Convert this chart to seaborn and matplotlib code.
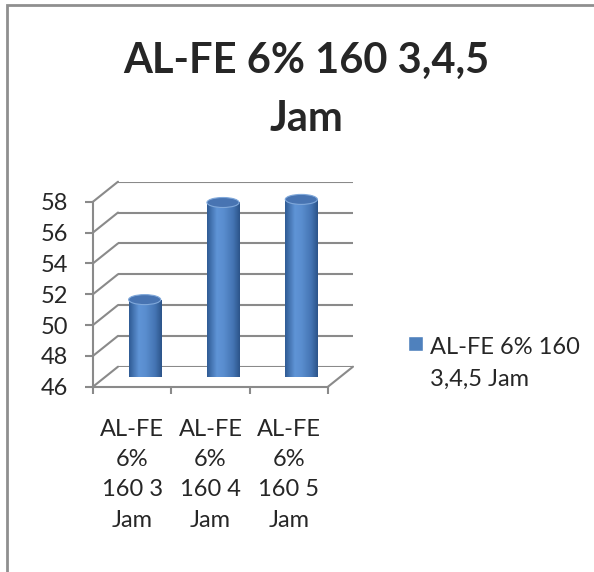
import numpy as np
import matplotlib
matplotlib.use("Agg")
import matplotlib.pyplot as plt
import seaborn as sns
from matplotlib.patches import Rectangle, Ellipse, ConnectionPatch, Patch
from matplotlib.colors import LinearSegmentedColormap
from matplotlib.legend_handler import HandlerPatch

# Chart data
categories = ["AL-FE\n6%\n160 3\nJam", "AL-FE\n6%\n160 4\nJam", "AL-FE\n6%\n160 5\nJam"]
values = [51.0, 57.3, 57.5]
series_name = "AL-FE 6% 160\n3,4,5 Jam"
chart_title = "AL-FE 6% 160 3,4,5\nJam"
y_ticks = [46, 48, 50, 52, 54, 56, 58]
y_min, y_max = 46, 58

sns.set_style("white")
plt.rcParams["font.family"] = ["Lato", "DejaVu Sans"]

W, H = 594, 572
fig = plt.figure(figsize=(W / 100, H / 100), dpi=100)


def px_box(left, top, width, height):
    """Axes rectangle from pixel values measured from the top-left corner."""
    return [left / W, 1 - (top + height) / H, width / W, height / H]


PLOT_W, PLOT_H = 235, 185
FRONT_LEFT, FRONT_BOTTOM = 93, 386.7
DEPTH_X, DEPTH_Y = 25, 20
GRID = "#8a8a8a"
BLUE = "#4F81BD"
LABEL_SIZE = 17

# back wall, mid-depth plane (cylinders), front plane (axes & labels)
ax_back = fig.add_axes(px_box(FRONT_LEFT + DEPTH_X, FRONT_BOTTOM - DEPTH_Y - PLOT_H, PLOT_W, PLOT_H))
ax_mid = fig.add_axes(px_box(FRONT_LEFT + DEPTH_X / 2, FRONT_BOTTOM - DEPTH_Y / 2 - PLOT_H, PLOT_W, PLOT_H))
ax_front = fig.add_axes(px_box(FRONT_LEFT, FRONT_BOTTOM - PLOT_H, PLOT_W, PLOT_H))

for ax in (ax_back, ax_mid, ax_front):
    ax.set_xlim(-0.5, 2.5)
    ax.set_ylim(y_min, y_max)
    ax.set_facecolor("none")

# back wall gridlines
ax_back.set_yticks(y_ticks)
ax_back.set_xticks([])
ax_back.yaxis.grid(True, color=GRID, lw=1.5)
ax_back.tick_params(left=False, labelleft=False)
for s in ax_back.spines.values():
    s.set_visible(False)

# side wall and floor edges joining front plane to back wall
for v in y_ticks:
    fig.add_artist(ConnectionPatch(xyA=(-0.5, v), coordsA=ax_front.transData,
                                   xyB=(-0.5, v), coordsB=ax_back.transData,
                                   color=GRID, lw=1.5))
fig.add_artist(ConnectionPatch(xyA=(2.5, y_min), coordsA=ax_front.transData,
                               xyB=(2.5, y_min), coordsB=ax_back.transData,
                               color=GRID, lw=1.5))

# cylinders
sns.barplot(x=list(range(len(values))), y=values, ax=ax_mid, width=0.41,
            color=BLUE, saturation=1)
ax_mid.set_xlim(-0.5, 2.5)
ax_mid.set_ylim(y_min, y_max)
ax_mid.axis("off")

shade = LinearSegmentedColormap.from_list(
    "cyl", [(0, "#2f5b94"), (0.3, "#5f94d6"), (0.5, "#5a8ecf"), (0.8, "#4474b3"), (1, "#2c5489")])
ell_h = 10 / (PLOT_H / (y_max - y_min))
grad = np.linspace(0, 1, 200)[None, :]
for patch, v in zip(list(ax_mid.patches), values):
    x0, w = patch.get_x(), patch.get_width()
    patch.set_visible(False)
    body = Rectangle((x0, y_min), w, v - y_min, transform=ax_mid.transData)
    base = Ellipse((x0 + w / 2, y_min), w, ell_h, transform=ax_mid.transData)
    for clip in (body, base):
        im = ax_mid.imshow(grad, extent=(x0, x0 + w, y_min - ell_h, v), aspect="auto",
                           cmap=shade, zorder=2, interpolation="bilinear")
        im.set_clip_path(clip)
    ax_mid.add_patch(Ellipse((x0 + w / 2, v), w, ell_h, facecolor="#4874b2",
                             edgecolor="#80a8da", lw=0.8, zorder=3))
ax_mid.set_xlim(-0.5, 2.5)
ax_mid.set_ylim(y_min, y_max)

# front axis: value ticks and category labels
ax_front.set_yticks(y_ticks)
ax_front.set_xticks([-0.5, 0.5, 1.5, 2.5])
ax_front.set_xticklabels([])
ax_front.set_xticks([0, 1, 2], minor=True)
ax_front.set_xticklabels(categories, minor=True, linespacing=1.55)
for s in ("top", "right"):
    ax_front.spines[s].set_visible(False)
for s in ("left", "bottom"):
    ax_front.spines[s].set_color(GRID)
    ax_front.spines[s].set_linewidth(1.5)
ax_front.tick_params(axis="y", direction="out", length=6, width=1.5, color=GRID,
                     labelsize=LABEL_SIZE, pad=12, left=True)
ax_front.tick_params(axis="x", which="major", direction="out", length=5, width=1.5,
                     color=GRID, bottom=True)
ax_front.tick_params(axis="x", which="minor", length=0, labelsize=LABEL_SIZE, pad=23)

# legend
def raised_square(legend, orig_handle, xdescent, ydescent, width, height, fontsize):
    return Rectangle((-xdescent, -ydescent + 0.85 * fontsize), width, height)

leg = fig.legend(handles=[Patch(facecolor=BLUE)], labels=[series_name], loc="upper left",
                 bbox_to_anchor=(387 / W, 1 - 316 / H), frameon=False, fontsize=LABEL_SIZE,
                 handlelength=0.62, handleheight=0.62, handletextpad=0.3, labelspacing=0,
                 handler_map={Patch: HandlerPatch(patch_func=raised_square)})
leg.get_texts()[0].set_linespacing(1.6)

# title
fig.text(306 / W, 1 - 90 / H, chart_title, ha="center", va="center", fontsize=30,
         fontweight="bold", linespacing=1.65)

# chart-area border
fig.add_artist(Rectangle((7 / W, -0.1), 1.2, 1 - 5 / H + 0.1, transform=fig.transFigure,
                         facecolor="none", edgecolor="#8f8f8f", lw=2))

fig.savefig("out.png", dpi=100)
